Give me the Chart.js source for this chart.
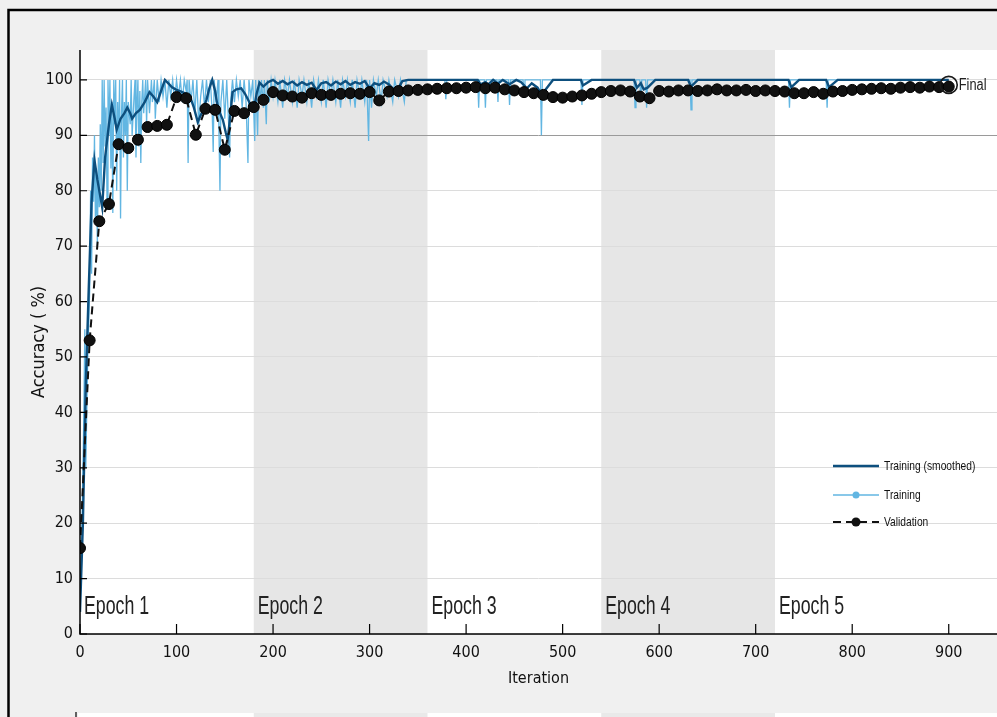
<!DOCTYPE html>
<html>
<head>
<meta charset="utf-8">
<script src="https://cdn.jsdelivr.net/npm/chart.js@4.4.1/dist/chart.umd.min.js"></script>
<style>
  html, body { margin: 0; padding: 0; background: #f0f0f0; }
  #wrap { width: 997px; height: 717px; position: relative; }
</style>
</head>
<body>
<div id="wrap"><canvas id="acc_chart" width="997" height="717"></canvas></div>
<script>
// Epochs (180 iterations each)
const epochNames = ['Epoch 1', 'Epoch 2', 'Epoch 3', 'Epoch 4', 'Epoch 5'];
const epochStarts = [0, 180, 360, 540, 720];
const epochEnds = [180, 360, 540, 720, 900];

// Tick labels
const xTicks = [0, 100, 200, 300, 400, 500, 600, 700, 800, 900];
const yTicks = [0, 10, 20, 30, 40, 50, 60, 70, 80, 90, 100];

// Training (raw) accuracy per iteration
const trainIter = [0, 2, 4, 5, 6, 8, 10, 11, 12, 13, 14, 15, 16, 17, 18, 19, 20, 21, 22, 23, 24, 25, 26, 27, 28, 29,
  30, 31, 32, 33, 34, 35, 36, 37, 38, 39, 40, 41, 42, 43, 44, 45, 46, 47, 48, 49, 50, 52, 53, 54, 56, 57, 58, 59,
  60, 61, 62, 63, 64, 65, 66, 68, 69, 70, 72, 74, 75, 77, 78, 80, 82, 84, 86, 88, 90, 92, 94, 96, 98,
  100, 102, 104, 106, 108, 110, 111, 112, 113, 115, 117, 119, 121, 123, 125, 127, 129, 131, 133, 135, 137, 138, 139,
  141, 143, 144, 145, 146, 148, 150, 152, 154, 155, 156, 158, 160, 162, 164, 166, 168, 170, 172, 174, 175, 177, 179,
  181, 182, 184, 185, 187, 188, 190, 191, 193, 194, 196, 198, 200, 202, 205, 207, 210, 212, 215, 217, 220, 222,
  225, 227, 230, 232, 235, 237, 240, 242, 245, 247, 250, 252, 255, 257, 260, 262, 265, 267, 270, 272, 275, 277,
  280, 282, 285, 287, 290, 292, 295, 297, 299, 300, 302, 304, 307, 309, 312, 314, 318, 320, 324, 326, 330, 332,
  336, 338, 360, 378, 379, 380, 412, 413, 414, 419, 420, 421, 432, 433, 434, 444, 445, 446, 459, 460, 461,
  477, 478, 479, 519, 520, 521, 574, 575, 576, 580, 581, 582, 586, 587, 588, 632, 633, 634, 734, 735, 736,
  773, 774, 775, 900];
const trainAcc = [4, 18, 40, 55, 30, 50, 62, 80, 65, 86, 78, 90, 74, 84, 70, 86, 77, 92, 80, 100, 85, 100, 88, 95, 78, 100,
  90, 100, 84, 96, 76, 100, 92, 100, 80, 96, 88, 100, 75, 94, 100, 86, 96, 90, 100, 80, 96, 92, 100, 90, 97, 100, 86, 95,
  100, 88, 98, 85, 96, 100, 94, 100, 92, 100, 94, 100, 96, 100, 93, 100, 96, 100, 97, 100, 95, 100, 97, 100, 96,
  100, 97, 100, 96, 100, 98, 100, 85, 100, 96, 100, 94, 100, 92, 97, 100, 95, 100, 96, 100, 94, 87, 100,
  96, 100, 90, 80, 96, 100, 93, 100, 92, 86, 96, 100, 96, 100, 97, 100, 95, 100, 96, 85, 100, 97, 100,
  89, 100, 90, 100, 96, 100, 95, 100, 92, 100, 96, 100, 97, 100, 96, 100, 95, 100, 97, 100, 96, 100,
  95, 100, 97, 100, 96, 100, 95, 100, 97, 100, 96, 100, 95, 100, 97, 100, 96, 100, 95, 100, 97, 100,
  96, 100, 95, 100, 97, 100, 96, 100, 89, 100, 95, 100, 97, 100, 96, 100, 97, 100, 96, 100, 97, 100,
  96, 100, 100, 100, 96.5, 100, 100, 95, 100, 100, 95, 100, 100, 96, 100, 100, 95.5, 100, 100, 97, 100,
  100, 90, 100, 100, 95.5, 100, 100, 95, 100, 100, 96, 100, 100, 95, 100, 100, 94.6, 100, 100, 95, 100,
  100, 95, 100, 100];

// Training (smoothed)
const smoothIter = [0, 3, 6, 9, 12, 15, 18, 21, 23, 26, 30, 33, 36, 38, 42, 46, 49, 52, 54, 58, 62, 67, 72, 76, 80,
  84, 88, 92, 95, 100, 106, 110, 114, 118, 122, 126, 131, 134, 137, 140, 142, 145, 148, 151, 153, 156, 158, 162,
  167, 171, 176, 181, 183, 186, 190, 195, 200, 205, 210, 215, 220, 225, 230, 235, 240, 245, 250, 255, 260, 265,
  270, 275, 280, 285, 290, 295, 300, 305, 310, 315, 320, 325, 330, 334, 340, 412, 415, 420, 423, 428, 433, 438,
  445, 452, 457, 463, 468, 474, 478, 482, 490, 519, 521, 530, 574, 577, 581, 584, 588, 596, 630, 633, 640,
  734, 737, 745, 773, 776, 785, 900];
const smoothAcc = [4, 20, 45, 62, 78, 85.5, 82, 79, 77, 86, 92, 95.5, 93, 91, 93, 94, 95, 94, 93, 94, 94.6, 96, 97.8, 97, 96,
  98, 100, 99.3, 98.7, 98.2, 97.8, 97.5, 97, 95, 92.4, 94, 96.4, 98.5, 100, 98, 95.8, 94, 92.8, 90.5, 89.2, 94, 97.8, 98.3,
  98.5, 97.5, 95.8, 95.5, 97.5, 99.5, 98.8, 99.6, 100, 99.3, 99.8, 99.2, 99.7, 99, 99.6, 99.1, 99.5, 98.2, 99.4, 99.6, 99, 99.7,
  99.2, 99.8, 99.1, 99.6, 99.3, 99.8, 98.5, 99.4, 99.1, 99.7, 99.2, 98.3, 98.6, 99.8, 100, 100, 99.2, 99.6, 99.2, 100, 99.3, 100,
  99.2, 100, 99.6, 98.5, 99.4, 98.6, 97.4, 98.2, 100, 100, 99, 100, 100, 98.6, 99.4, 98.3, 98.6, 100, 100, 98.8, 100,
  100, 98.7, 100, 100, 98.7, 100, 100];

// Validation accuracy (every 10 iterations)
const valIter = [0, 10, 20, 30, 40, 50, 60, 70, 80, 90, 100, 110, 120, 130, 140, 150, 160, 170, 180, 190,
  200, 210, 220, 230, 240, 250, 260, 270, 280, 290, 300, 310, 320, 330, 340, 350, 360, 370, 380, 390,
  400, 410, 420, 430, 440, 450, 460, 470, 480, 490, 500, 510, 520, 530, 540, 550, 560, 570, 580, 590,
  600, 610, 620, 630, 640, 650, 660, 670, 680, 690, 700, 710, 720, 730, 740, 750, 760, 770, 780, 790,
  800, 810, 820, 830, 840, 850, 860, 870, 880, 890, 900];
const valAcc = [15.5, 53, 74.5, 77.6, 88.4, 87.7, 89.2, 91.5, 91.7, 91.9, 96.9, 96.7, 90.1, 94.8, 94.6, 87.4, 94.4, 94.0, 95.1, 96.4,
  97.8, 97.2, 97.0, 96.8, 97.6, 97.3, 97.3, 97.5, 97.6, 97.5, 97.8, 96.3, 97.9, 98.0, 98.1, 98.2, 98.3, 98.4, 98.5, 98.5,
  98.6, 98.7, 98.5, 98.6, 98.3, 98.1, 97.8, 97.6, 97.3, 96.9, 96.8, 97.0, 97.2, 97.5, 97.8, 98.0, 98.1, 97.9, 97.0, 96.7,
  98.0, 97.9, 98.1, 98.1, 98.0, 98.1, 98.3, 98.1, 98.1, 98.2, 98.0, 98.1, 98.0, 97.9, 97.6, 97.6, 97.8, 97.5, 97.9, 98.0,
  98.2, 98.3, 98.4, 98.5, 98.4, 98.6, 98.7, 98.6, 98.8, 98.7, 98.8];

const finalIter = [900];
const finalAcc = [99.1];

const NARROW = "'Liberation Sans Narrow', 'DejaVu Sans Condensed', Arial, sans-serif";
const SANS = "'Liberation Sans', Arial, sans-serif";
const SMOOTH_COLOR = '#0d4f7e';
const RAW_COLOR = '#62b6e2';
const VAL_COLOR = '#111111';

function pairs(xs, ys) {
    return xs.map(function (x, i) { return { x: x, y: ys[i] }; });
}

// Text squeezed horizontally, like the narrow font in the picture
function narrowText(ctx, text, x, y, size, squeeze) {
    ctx.save();
    ctx.font = size + 'px ' + SANS;
    ctx.translate(x, y);
    ctx.scale(squeeze, 1);
    ctx.fillText(text, 0, 0);
    ctx.restore();
}

// Gray page, frame, white plot box and epoch bands
const backdrop = {
    id: 'backdrop',
    beforeDraw: function (chart) {
        let ctx = chart.ctx, a = chart.chartArea, xs = chart.scales.x;
        ctx.save();
        ctx.fillStyle = '#f0f0f0';
        ctx.fillRect(0, 0, chart.width, chart.height);
        ctx.fillStyle = '#ffffff';
        ctx.fillRect(a.left, a.top, a.right - a.left, a.bottom - a.top);
        // top of the next panel peeking in at the bottom edge
        ctx.fillRect(a.left - 2, chart.height - 4, chart.width, 4);
        for (let i = 1; i < epochStarts.length; i += 2) {
            let x0 = xs.getPixelForValue(epochStarts[i]);
            let x1 = xs.getPixelForValue(epochEnds[i]);
            ctx.fillStyle = '#e6e6e6';
            ctx.fillRect(x0, a.top, x1 - x0, a.bottom - a.top);
            ctx.fillStyle = '#e9e9e9';
            ctx.fillRect(x0, chart.height - 4, x1 - x0, 4);
        }
        // outer frame
        ctx.strokeStyle = '#000';
        ctx.lineWidth = 2.5;
        ctx.beginPath();
        ctx.moveTo(8.5, chart.height);
        ctx.lineTo(8.5, 10);
        ctx.lineTo(chart.width, 10);
        ctx.stroke();
        ctx.lineWidth = 1.2;
        ctx.beginPath();
        ctx.moveTo(a.left - 4, chart.height);
        ctx.lineTo(a.left - 4, chart.height - 5);
        ctx.stroke();
        ctx.restore();
    },
    afterDatasetsDraw: function (chart) {
        let ctx = chart.ctx, a = chart.chartArea, xs = chart.scales.x, ys = chart.scales.y;
        ctx.save();
        // epoch labels
        ctx.fillStyle = '#222';
        ctx.textBaseline = 'middle';
        ctx.textAlign = 'left';
        epochNames.forEach(function (name, i) {
            narrowText(ctx, name, xs.getPixelForValue(epochStarts[i]) + 4, ys.getPixelForValue(4.9), 25, 0.71);
        });
        // "Final" label next to the last validation point
        narrowText(ctx, 'Final', xs.getPixelForValue(finalIter[0]) + 10, ys.getPixelForValue(finalAcc[0]) + 1, 16, 0.8);

        // axes with inward ticks
        ctx.strokeStyle = '#000';
        ctx.lineWidth = 1.5;
        ctx.beginPath();
        ctx.moveTo(a.left, a.top);
        ctx.lineTo(a.left, a.bottom);
        ctx.lineTo(a.right, a.bottom);
        ctx.stroke();
        ctx.lineWidth = 1.2;
        ctx.beginPath();
        yTicks.forEach(function (v) {
            let y = ys.getPixelForValue(v);
            ctx.moveTo(a.left, y);
            ctx.lineTo(a.left + 7, y);
        });
        xTicks.forEach(function (v) {
            let x = xs.getPixelForValue(v);
            ctx.moveTo(x, a.bottom);
            ctx.lineTo(x, a.bottom - 10);
        });
        ctx.stroke();

        // legend, bottom right inside the plot
        let lx = a.right - 164, tx = a.right - 113;
        let rows = [a.bottom - 168, a.bottom - 139, a.bottom - 112];
        chart.data.datasets.slice(0, 3).forEach(function (ds, i) {
            let y = rows[i];
            ctx.beginPath();
            ctx.strokeStyle = ds.borderColor;
            ctx.lineWidth = ds.borderWidth;
            ctx.setLineDash(ds.borderDash || []);
            ctx.moveTo(lx, y);
            ctx.lineTo(lx + 46, y);
            ctx.stroke();
            ctx.setLineDash([]);
            if (i > 0) {
                ctx.beginPath();
                ctx.fillStyle = i === 1 ? RAW_COLOR : VAL_COLOR;
                ctx.arc(lx + 23, y, i === 1 ? 3.5 : 4.5, 0, Math.PI * 2);
                ctx.fill();
            }
            ctx.fillStyle = '#111';
            narrowText(ctx, ds.label, tx, y, 13.5, 0.76);
        });
        ctx.restore();
    }
};

let ctx = document.getElementById('acc_chart').getContext('2d');

let myChart = new Chart(ctx, {
    type: 'line',
    data: {
        datasets: [{
            label: 'Training (smoothed)',
            data: pairs(smoothIter, smoothAcc),
            borderColor: SMOOTH_COLOR,
            borderWidth: 2.4,
            pointRadius: 0,
            tension: 0,
            order: 2
        }, {
            label: 'Training',
            data: pairs(trainIter, trainAcc),
            borderColor: RAW_COLOR,
            borderWidth: 1.3,
            pointRadius: 0,
            tension: 0,
            order: 3
        }, {
            label: 'Validation',
            data: pairs(valIter, valAcc),
            borderColor: VAL_COLOR,
            backgroundColor: VAL_COLOR,
            borderWidth: 2,
            borderDash: [8, 5],
            pointRadius: 5.5,
            pointBackgroundColor: VAL_COLOR,
            pointBorderColor: '#000',
            pointBorderWidth: 1,
            tension: 0,
            order: 1
        }, {
            label: 'Final',
            data: pairs(finalIter, finalAcc),
            showLine: false,
            pointRadius: 8.5,
            pointBorderWidth: 1.6,
            pointBorderColor: '#1a1a1a',
            pointBackgroundColor: 'rgba(0,0,0,0)',
            order: 0
        }]
    },
    plugins: [backdrop],
    options: {
        responsive: false,
        animation: false,
        layout: { autoPadding: false, padding: { top: 50, right: 0, bottom: 25, left: 0 } },
        plugins: {
            legend: { display: false },
            tooltip: { enabled: false }
        },
        scales: {
            x: {
                type: 'linear',
                min: 0,
                max: 950,
                border: { display: false },
                grid: { display: false, drawTicks: false },
                ticks: {
                    stepSize: 100,
                    padding: 9,
                    color: '#111',
                    font: { family: NARROW, size: 16 }
                },
                afterBuildTicks: function (scale) {
                    scale.ticks = xTicks.map(function (v) { return { value: v }; });
                },
                afterFit: function (scale) {
                    scale.height = 58;
                    scale.paddingLeft = 0;
                    scale.paddingRight = 0;
                },
                title: {
                    display: true,
                    text: 'Iteration',
                    color: '#111',
                    font: { family: NARROW, size: 16 }
                }
            },
            y: {
                min: 0,
                max: 105.4,
                border: { display: false },
                grid: {
                    drawTicks: false,
                    lineWidth: 1,
                    color: function (c) {
                        return c.tick && c.tick.value === 90 ? '#9a9a9a' : '#dcdcdc';
                    }
                },
                ticks: {
                    stepSize: 10,
                    padding: 7,
                    color: '#111',
                    font: { family: NARROW, size: 16 }
                },
                afterBuildTicks: function (scale) {
                    scale.ticks = yTicks.map(function (v) { return { value: v }; });
                },
                afterFit: function (scale) {
                    scale.width = 80;
                    scale.paddingTop = 0;
                    scale.paddingBottom = 0;
                },
                title: {
                    display: true,
                    text: 'Accuracy ( %)',
                    color: '#111',
                    font: { family: NARROW, size: 18 },
                    padding: { top: 29, bottom: 0 }
                }
            }
        }
    }
});
</script>
</body>
</html>
